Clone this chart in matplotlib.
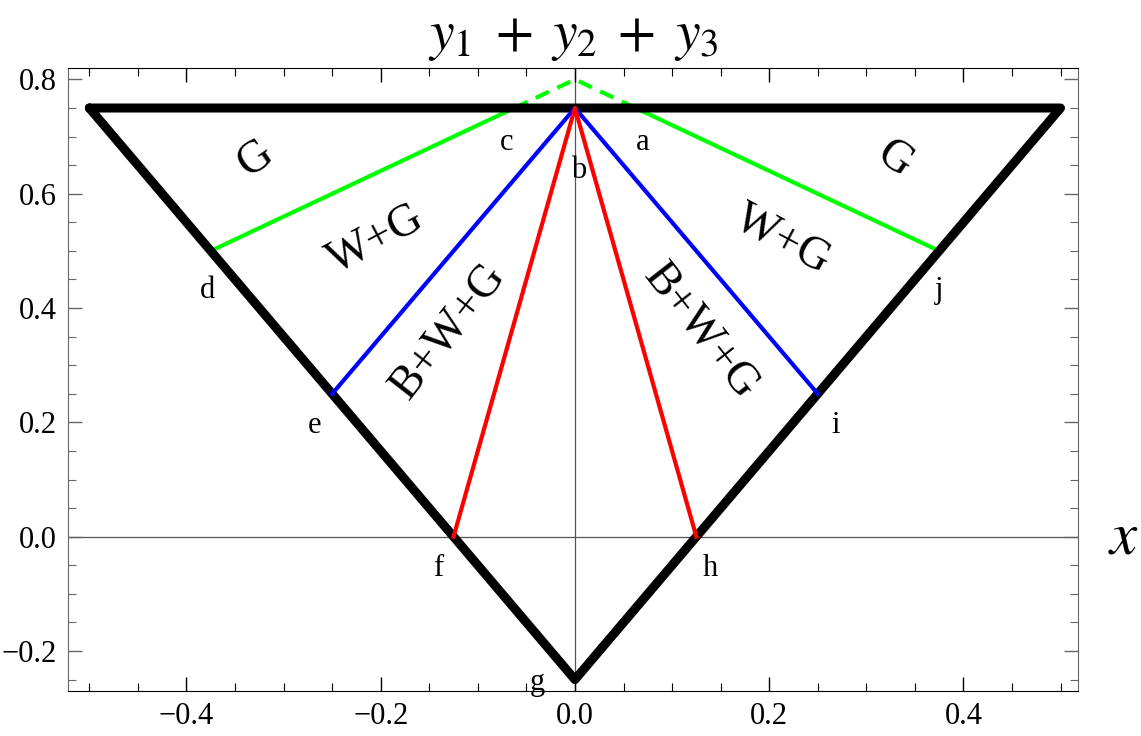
import numpy as np
import matplotlib
matplotlib.use('Agg')
import matplotlib.pyplot as plt
from matplotlib.ticker import MultipleLocator

plt.rcParams['font.family'] = ['Liberation Serif', 'DejaVu Serif']
plt.rcParams['mathtext.fontset'] = 'stix'

# outer triangle (closed)
tri_x = [-0.5, 0.5, 0.0, -0.5]
tri_y = [0.75, 0.75, -0.25, 0.75]

# coloured boundaries: (x0, y0) on the edge -> (x1, y1)
green_left_x = [-0.375, -0.0625]
green_left_y = [0.5, 0.75]
green_right_x = [0.375, 0.0625]
green_right_y = [0.5, 0.75]
green_dash_x = [-0.0625, 0.0, 0.0625]
green_dash_y = [0.75, 0.8, 0.75]
blue_x = [-0.25, 0.0, 0.25]
blue_y = [0.25, 0.75, 0.25]
red_x = [-0.125, 0.0, 0.125]
red_y = [0.0, 0.75, 0.0]

# point labels
pt_names = ['a', 'b', 'c', 'd', 'e', 'f', 'g', 'h', 'i', 'j']
pt_x = [0.07, 0.004, -0.07, -0.378, -0.268, -0.141, -0.039, 0.139, 0.268, 0.375]
pt_y = [0.69, 0.64, 0.69, 0.43, 0.195, -0.055, -0.255, -0.055, 0.195, 0.43]

# region labels
reg_names = ['G', 'W+G', 'B+W+G', 'G', 'W+G', 'B+W+G']
reg_x = [-0.329, -0.205, -0.13, 0.329, 0.214, 0.13]
reg_y = [0.66, 0.52, 0.36, 0.66, 0.52, 0.36]
reg_rot = [35, 28, 52, -35, -28, -52]

fig = plt.figure(figsize=(11.41, 7.36), dpi=100)
ax = fig.add_axes([0.0596, 0.0611, 0.8852, 0.8465])

ax.axhline(0, color='#555555', lw=0.9, zorder=1)
ax.axvline(0, color='#555555', lw=0.9, zorder=1)

ax.plot(green_left_x, green_left_y, color='#00ff00', lw=3, zorder=2)
ax.plot(green_right_x, green_right_y, color='#00ff00', lw=3, zorder=2)
ax.plot(green_dash_x, green_dash_y, color='#00ff00', lw=3, dashes=(3.5, 2.2), zorder=2)
ax.plot(tri_x, tri_y, color='black', lw=6.5, solid_joinstyle='round',
        solid_capstyle='round', zorder=3)
ax.plot(blue_x, blue_y, color='#0000ff', lw=3, zorder=4)
ax.plot(red_x, red_y, color='#ff0000', lw=3, zorder=4)

for name, x, y in zip(pt_names, pt_x, pt_y):
    ax.text(x, y, name, fontsize=22, ha='center', va='center', zorder=5)

for name, x, y, r in zip(reg_names, reg_x, reg_y, reg_rot):
    ax.text(x, y, name, fontsize=33, ha='center', va='center', rotation=r,
            rotation_mode='anchor', zorder=5)

ax.set_xlim(-0.522, 0.518)
ax.set_ylim(-0.27, 0.82)
ax.xaxis.set_major_locator(MultipleLocator(0.2))
ax.xaxis.set_minor_locator(MultipleLocator(0.05))
ax.yaxis.set_major_locator(MultipleLocator(0.2))
ax.yaxis.set_minor_locator(MultipleLocator(0.05))
ax.xaxis.set_major_formatter(plt.FuncFormatter(lambda v, p: f'{v:.1f}'.replace('-', '\u2212')))
ax.yaxis.set_major_formatter(plt.FuncFormatter(lambda v, p: f'{v:.1f}'.replace('-', '\u2212')))
ax.tick_params(which='both', direction='in', top=True, right=True, labelsize=22, pad=8)
ax.tick_params(which='major', length=10, width=1)
ax.tick_params(which='minor', length=6, width=0.8)
for s in ['left', 'right']:
    ax.spines[s].set_color('#666666')
ax.tick_params(axis='y', which='both', color='#666666')

ax.set_title(r'$y_1\;+\;y_2\;+\;y_3$', fontsize=40, pad=14)
ax.text(1.03, 0.245, r'$x$', transform=ax.transAxes, fontsize=44,
        ha='left', va='center')

fig.savefig('out.png', dpi=100)
